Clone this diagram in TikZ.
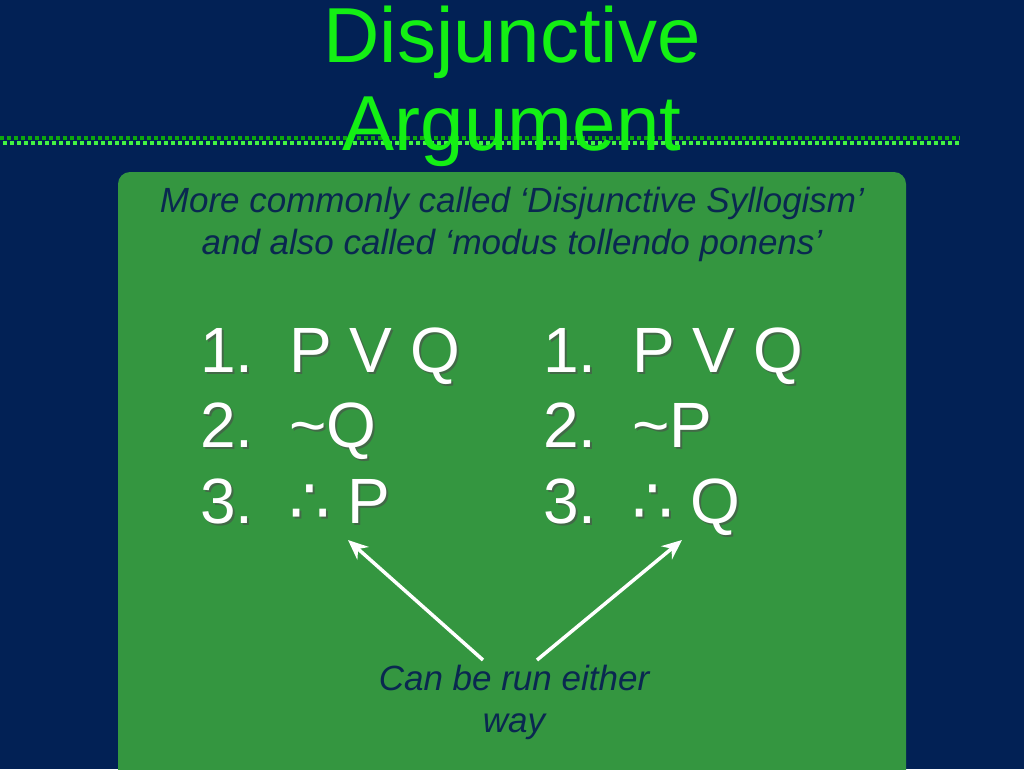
\documentclass[tikz,border=0pt]{standalone}
\usepackage{fontspec}
\usetikzlibrary{arrows.meta}
\setmainfont{Liberation Sans}[Ligatures=ResetAll]
\newfontfamily\symf{DejaVu Sans}
\definecolor{navy}{RGB}{2,33,85}
\definecolor{boxg}{RGB}{52,150,64}
\definecolor{titleg}{RGB}{20,240,20}
\definecolor{subc}{RGB}{10,40,80}
\begin{document}
\begin{tikzpicture}[x=1pt,y=-1pt,
  title/.style={text=titleg,font=\fontsize{78}{78}\selectfont,anchor=base},
  sub/.style={text=subc,font=\fontsize{35}{35}\selectfont\itshape,anchor=base},
  item/.style={text=white,font=\fontsize{64}{64}\selectfont,anchor=base west,inner sep=0},
  shad/.style={text=black!70,opacity=0.6,font=\fontsize{64}{64}\selectfont,anchor=base west,inner sep=0},
  arr/.style={draw=white,line width=3.5pt,-{Stealth[length=20pt,width=17pt]}}]
\useasboundingbox (0,0) rectangle (1024,769);
\fill[navy] (0,0) rectangle (1024,769);
\fill[boxg,rounded corners=12pt] (118,172) rectangle (906,800);
\draw[titleg!70!black,line width=4pt,dash pattern=on 4pt off 3pt] (0,138) -- (960,138);
\draw[titleg!80,line width=4pt,dash pattern=on 4pt off 3pt] (3,143) -- (960,143);
\node[title] (t1) at (512,62) {Disjunctive};
\node[title] (t2) at (512,150) {Argument};
\node[sub] (s1) at (512,212) {More commonly called ‘Disjunctive Syllogism’};
\node[sub] (s2) at (512,254) {and also called ‘modus tollendo ponens\symbol{"0027}};
\foreach \x/\a/\b/\c in {200/P V Q/\symbol{126}Q/P, 543/P V Q/\symbol{126}P/Q}{
  \node[shad] at (\x+2,374) {1.\ \ \a};
  \node[shad] at (\x+2,449) {2.\ \ \b};
  \node[shad] at (\x+2,525) {3.\ \ {\symf ∴} \c};
  \node[item] at (\x,372) {1.\ \ \a};
  \node[item] at (\x,447) {2.\ \ \b};
  \node[item] at (\x,523) {3.\ \ {\symf ∴} \c};
}
\coordinate (p) at (348,540);
\coordinate (q) at (682,540);
\node[sub] (c1) at (514,690) {Can be run either};
\node[sub] (c2) at (514,732) {way};
\draw[arr] (483,660) -- (p);
\draw[arr] (537,660) -- (q);
\end{tikzpicture}
\end{document}
